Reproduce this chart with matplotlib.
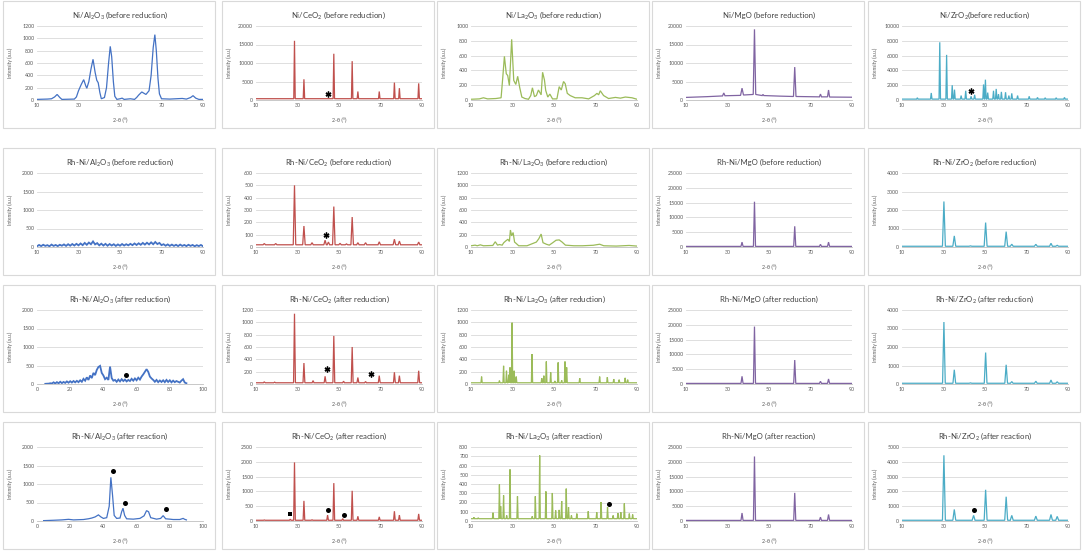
import matplotlib
matplotlib.use("Agg")
import matplotlib.pyplot as plt
from matplotlib.patches import Rectangle
import numpy as np

plt.rcParams['font.family'] = ['Lato', 'DejaVu Sans']
plt.rcParams['mathtext.fontset'] = 'custom'
plt.rcParams['mathtext.rm'] = 'Lato'
plt.rcParams['mathtext.it'] = 'Lato'

BLUE = '#4472C4'
RED = '#C0504D'
GREEN = '#9BBB59'
PURPLE = '#8064A2'
CYAN = '#4BACC6'

# ---------------- data (2-theta in degrees, intensity in a.u.) ----------------
# row 1: Ni catalysts before reduction
ni_al_before_x = [10, 15, 17, 18.5, 19.7, 21, 22, 28, 29, 30, 31.3, 32.5, 33.5, 34, 35, 36, 37, 38,
                  38.8, 39.5, 40.3, 41, 42.5, 43.5, 44.5, 45.3, 46, 46.8, 47.5, 48.5, 50, 51, 52, 55,
                  57, 58, 59, 60.5, 61.5, 62.5, 64, 65, 66, 66.8, 67.5, 68.3, 69, 70, 74, 77, 80, 82,
                  84, 85.2, 86.5, 88, 90]
ni_al_before_y = [10, 15, 20, 50, 90, 40, 10, 15, 50, 150, 250, 330, 230, 190, 300, 500, 660, 450,
                  320, 280, 120, 20, 40, 200, 600, 870, 700, 300, 60, 10, 20, 30, 10, 20,
                  10, 40, 80, 130, 110, 90, 150, 400, 850, 1060, 800, 350, 100, 20, 15, 20, 25, 15,
                  40, 70, 30, 10, 10]

ni_ce_before_pos = [28.55, 33.1, 47.5, 56.35, 59.1, 69.4, 76.7, 79.1, 88.4]
ni_ce_before_h = [16000, 5600, 12500, 10500, 2300, 2300, 4700, 3200, 4500]
ni_ce_before_star = [(44.5, 1700)]

ni_la_before_x = [10, 14, 16, 18, 22, 24.5, 25.3, 26.1, 27.0, 27.7, 28.5, 29.6, 30.6, 31.6, 32.5,
                  33.5, 34.5, 36, 37.7, 38.8, 39.6, 40.6, 41.5, 42.5, 43.8, 44.5, 45.4, 46, 47, 48,
                  49.3, 51.4, 52.5, 53.5, 54.6, 55.4, 56.4, 57.8, 60.2, 63.5, 66.7, 69.5, 70.7, 71.5,
                  72.3, 73.9, 76.3, 79.6, 82, 84.4, 87.6, 90]
ni_la_before_y = [10, 15, 30, 15, 20, 30, 300, 590, 355, 330, 195, 820, 265, 210, 320,
                  165, 40, 20, 10, 60, 165, 45, 60, 135, 70, 375, 270, 130, 40, 80,
                  15, 15, 180, 135, 250, 220, 90, 60, 30, 30, 15, 60, 90, 70,
                  125, 60, 20, 35, 25, 40, 30, 10]

ni_mg_before_x = [10, 20, 27.6, 28.2, 28.8, 36.3, 37.0, 37.7, 42.4, 43.0, 43.6, 46.7, 47.1, 47.5,
                  55, 61.8, 62.4, 63.0, 74.3, 74.8, 75.3, 78.2, 78.7, 79.2, 90]
ni_mg_before_y = [700, 900, 1100, 1900, 1150, 1250, 3200, 1350, 1500, 19100, 1500, 1200, 1500, 1200,
                  1050, 950, 8900, 950, 850, 1600, 850, 850, 2700, 800, 750]

ni_zr_before_pos = [17.4, 24.1, 28.2, 31.5, 34.2, 35.3, 38.5, 40.7, 43.3, 45.0, 49.3, 50.2, 51.3,
                    54.1, 55.4, 56.5, 57.9, 59.9, 61.5, 62.9, 65.7, 71.3, 75.3, 79.0, 84.3, 88.3]
ni_zr_before_h = [300, 950, 7800, 6100, 2000, 1400, 600, 1250, 500, 700, 2100, 2750, 1000,
                  1250, 1500, 800, 1100, 1050, 600, 900, 600, 500, 350, 300, 300, 350]
ni_zr_before_star = [(43.4, 1150)]

# row 2: Rh-Ni catalysts before reduction
rhni_al_before_x = list(range(10, 91))
rhni_al_before_y = [20, 55, 25, 60, 30, 50, 20, 65, 30, 55, 25, 60, 35, 70, 30,
                    75, 35, 80, 40, 85, 45, 95, 50, 110,
                    60, 120, 75, 150, 70, 105, 45,
                    90, 40, 85, 35, 80, 40, 75, 30, 70, 35, 80, 40, 75, 45, 85,
                    50, 95, 55, 100, 60, 110, 65, 115, 70, 125, 75, 135, 80, 110, 50,
                    75, 35, 70, 30, 65, 30, 60, 25, 65, 30, 55, 25, 60, 30, 55, 20, 50, 25, 55, 20]

rhni_ce_before_pos = [14, 19.5, 28.55, 33.1, 37.0, 43.3, 44.9, 47.5, 50.5, 53.6, 56.35, 59.1, 62.8,
                      69.4, 76.7, 79.1, 88.4]
rhni_ce_before_h = [28, 28, 500, 170, 35, 55, 40, 328, 30, 25, 243, 35, 35, 42, 63, 48, 40]
rhni_ce_before_star = [(43.8, 100)]

rhni_la_before_x = [10, 12, 13, 14.5, 16, 20.5, 21.7, 22.8, 23.7, 25, 25.8, 26.8, 27.8, 28.5, 29.0,
                    29.6, 30.3, 31.0, 31.7, 33, 37, 40, 41.5, 42.7, 43.8, 44.7, 46.3, 47.7, 49.4, 51,
                    52.5, 53.9, 55.5, 59.6, 63.7, 68.9, 72, 74, 80, 86.2, 90]
rhni_la_before_y = [20, 30, 20, 35, 20, 25, 85, 30, 40, 30, 70, 100, 125, 90, 275,
                    180, 235, 80, 60, 20, 20, 60, 80, 135, 210, 70, 45, 30, 70, 110,
                    115, 80, 30, 20, 20, 28, 45, 20, 15, 25, 15]

mg_pos = [37.0, 43.0, 62.4, 74.8, 78.7]
rhni_mg_before_h = [1650, 15300, 7000, 900, 1650]

zr_t_pos = [30.2, 35.2, 43.0, 50.3, 60.2, 62.9, 74.5, 81.8, 84.8]
rhni_zr_before_h = [2460, 600, 60, 1320, 830, 150, 145, 200, 90]

# row 3: Rh-Ni catalysts after reduction
rhni_al_red_x = list(range(5, 91))
rhni_al_red_y = [5, 8, 10, 20, 15,
                 45, 15, 50, 20, 60, 25, 55, 30, 70, 35, 75, 40, 80, 45, 85,
                 50, 100, 60, 140, 90,
                 180, 110, 230, 160,
                 300, 240, 380, 460, 490, 300,
                 230, 130, 170, 110,
                 470, 160, 90,
                 110, 60, 120, 70, 130, 80, 120, 70, 110,
                 80, 140, 90, 150, 100, 170, 120, 200,
                 260, 330, 400, 330, 200, 150, 110,
                 60, 110, 50, 95, 55, 100, 50, 110, 55, 100, 45, 90, 50, 80, 60,
                 40, 90, 130, 40, 20]
rhni_al_red_dot = [(53.5, 250)]

rhni_ce_red_pos = [14, 19, 28.55, 33.1, 37.5, 43.3, 47.5, 52.2, 56.35, 59.1, 62.8, 69.4, 76.7, 79.1, 88.4]
rhni_ce_red_h = [35, 30, 1140, 340, 55, 125, 780, 45, 600, 105, 40, 135, 190, 135, 215]
rhni_ce_red_star = [(44.2, 240), (65.5, 170)]

rhni_la_red_pos = [15.1, 23.7, 25.7, 27.1, 28.2, 28.8, 29.8, 30.8, 31.8, 39.4, 44.1, 45.1, 46.3,
                   48.4, 50.4, 52.0, 53.7, 55.3, 56.1, 62.4, 72.0, 75.7, 78.8, 81.4, 84.3, 85.5]
rhni_la_red_h = [120, 55, 295, 215, 150, 270, 995, 215, 120, 485, 95, 135, 365,
                 190, 50, 350, 60, 365, 270, 95, 120, 110, 80, 70, 100, 70]

rhni_mg_red_h = [2600, 19400, 8100, 900, 1700]
rhni_zr_red_h = [3350, 770, 60, 1700, 1040, 130, 150, 215, 120]

# row 4: Rh-Ni catalysts after reaction
rhni_al_rxn_x = [4, 10, 15, 19, 22, 28, 31, 33, 35, 37, 38.5, 40, 42, 43.5, 44.5, 45.5, 46.5, 48, 50,
                 51, 51.8, 52.8, 54, 58, 62, 64.5, 66, 67.2, 68.5, 72, 74.5, 76, 77.5, 80, 82, 86,
                 88, 89, 90]
rhni_al_rxn_y = [10, 20, 30, 45, 30, 40, 60, 80, 110, 165, 110, 70, 90, 400, 1180, 700, 150, 70, 80,
                 250, 345, 150, 60, 50, 70, 140, 280, 250, 90, 50, 70, 145, 60, 50, 40, 40,
                 70, 45, 30]
rhni_al_rxn_dot = [(45.5, 1340), (53.1, 480), (77.9, 317)]

rhni_ce_rxn_pos = [14, 26.5, 28.55, 33.1, 37.0, 44.5, 47.5, 51.8, 56.35, 59.1, 69.4, 76.7, 79.1, 88.4]
rhni_ce_rxn_h = [35, 60, 1980, 680, 40, 200, 1280, 80, 1020, 160, 140, 330, 200, 240]
rhni_ce_rxn_square = [(26.4, 230)]
rhni_ce_rxn_dot = [(44.9, 380), (52.6, 195)]

rhni_la_rxn_pos = [11.4, 13.5, 20.6, 23.7, 24.3, 25.7, 27.2, 28.8, 32.4, 39.5, 41.0, 43.1, 46.1,
                   49.2, 50.8, 52.5, 53.7, 55.9, 57.0, 58.4, 61.0, 66.5, 70.6, 72.7, 75.8, 78.5,
                   80.8, 82.2, 83.9, 86.3, 87.9]
rhni_la_rxn_h = [40, 35, 90, 395, 160, 277, 60, 558, 267, 50, 267, 710, 320,
                 303, 115, 120, 216, 350, 150, 60, 80, 105, 95, 205, 150, 60,
                 85, 95, 190, 80, 70]
rhni_la_rxn_dot = [(76.3, 180)]

rhni_mg_rxn_h = [2700, 21800, 9500, 1300, 2200]

zr_rxn_pos = [30.2, 35.2, 44.5, 50.3, 60.2, 62.9, 74.5, 81.8, 84.8]
rhni_zr_rxn_h = [4440, 780, 380, 2110, 1640, 380, 330, 440, 310]
rhni_zr_rxn_dot = [(44.6, 710)]


def peak_line(pos, h, base, hw, lo=10, hi=90):
    # polyline through the baseline and the top of each read-off peak
    xs, ys = [lo], [base]
    for p, v in zip(pos, h):
        xs += [p - hw, p, p + hw]
        ys += [base, v, base]
    xs.append(hi)
    ys.append(base)
    return xs, ys


def t(name, cond):
    return name + ' (' + cond + ')'


AL = 'Al$_2$O$_3$'
CE = 'CeO$_2$'
LA = 'La$_2$O$_3$'
ZR = 'ZrO$_2$'

# (title, xy, color, ymax, ystep, xrange, markers, linewidth)
panels = [
    # row 1
    (t('Ni/' + AL, 'before reduction'), (ni_al_before_x, ni_al_before_y), BLUE, 1200, 200, (10, 90), {}, 0.9),
    (t('Ni/' + CE, 'before reduction'), peak_line(ni_ce_before_pos, ni_ce_before_h, 350, 0.35), RED,
     20000, 5000, (10, 90), {'star': ni_ce_before_star}, 0.9),
    (t('Ni/' + LA, 'before reduction'), (ni_la_before_x, ni_la_before_y), GREEN, 1000, 200, (10, 90), {}, 0.9),
    (t('Ni/MgO', 'before reduction'), (ni_mg_before_x, ni_mg_before_y), PURPLE, 20000, 5000, (10, 90), {}, 0.9),
    ('Ni/' + ZR + '(before reduction)', peak_line(ni_zr_before_pos, ni_zr_before_h, 120, 0.35), CYAN,
     10000, 2000, (10, 90), {'star': ni_zr_before_star}, 0.9),
    # row 2
    (t('Rh-Ni/' + AL, 'before reduction'), (rhni_al_before_x, rhni_al_before_y), BLUE, 2000, 500, (10, 90), {}, 1.3),
    (t('Rh-Ni/' + CE, 'before reduction'), peak_line(rhni_ce_before_pos, rhni_ce_before_h, 18, 0.6), RED,
     600, 100, (10, 90), {'star': rhni_ce_before_star}, 0.9),
    ('Rh-Ni/' + LA + ' (before reduction)', (rhni_la_before_x, rhni_la_before_y), GREEN, 1200, 200, (10, 90), {}, 0.9),
    (t('Rh-Ni/MgO', 'before reduction'), peak_line(mg_pos, rhni_mg_before_h, 200, 0.5), PURPLE,
     25000, 5000, (10, 90), {}, 0.9),
    ('Rh-Ni/' + ZR + ' (before reduction)', peak_line(zr_t_pos, rhni_zr_before_h, 40, 0.7), CYAN,
     4000, 1000, (10, 90), {}, 0.9),
    # row 3
    (t('Rh-Ni/' + AL, 'after reduction'), (rhni_al_red_x, rhni_al_red_y), BLUE, 2000, 500, (0, 100),
     {'dot': rhni_al_red_dot}, 1.3),
    (t('Rh-Ni/' + CE, 'after reduction'), peak_line(rhni_ce_red_pos, rhni_ce_red_h, 20, 0.45), RED,
     1200, 200, (10, 90), {'star': rhni_ce_red_star}, 0.9),
    ('Rh-Ni/' + LA + ' (after reduction)', peak_line(rhni_la_red_pos, rhni_la_red_h, 20, 0.3), GREEN,
     1200, 200, (10, 90), {}, 0.9),
    (t('Rh-Ni/MgO', 'after reduction'), peak_line(mg_pos, rhni_mg_red_h, 200, 0.5), PURPLE,
     25000, 5000, (10, 90), {}, 0.9),
    (t('Rh-Ni/' + ZR, 'after reduction'), peak_line(zr_t_pos, rhni_zr_red_h, 40, 0.65), CYAN,
     4000, 1000, (10, 90), {}, 0.9),
    # row 4
    (t('Rh-Ni/' + AL, 'after reaction'), (rhni_al_rxn_x, rhni_al_rxn_y), BLUE, 2000, 500, (0, 100),
     {'dot': rhni_al_rxn_dot}, 0.9),
    (t('Rh-Ni/' + CE, 'after reaction'), peak_line(rhni_ce_rxn_pos, rhni_ce_rxn_h, 25, 0.4), RED,
     2500, 500, (10, 90), {'square': rhni_ce_rxn_square, 'dot': rhni_ce_rxn_dot}, 0.9),
    (t('Rh-Ni/' + LA, 'after reaction'), peak_line(rhni_la_rxn_pos, rhni_la_rxn_h, 25, 0.3), GREEN,
     800, 100, (10, 90), {'dot': rhni_la_rxn_dot}, 0.9),
    (t('Rh-Ni/MgO', 'after reaction'), peak_line(mg_pos, rhni_mg_rxn_h, 200, 0.5), PURPLE,
     25000, 5000, (10, 90), {}, 0.9),
    (t('Rh-Ni/' + ZR, 'after reaction'), peak_line(zr_rxn_pos, rhni_zr_rxn_h, 50, 0.7), CYAN,
     5000, 1000, (10, 90), {'dot': rhni_zr_rxn_dot}, 0.9),
]

# ---------------- layout (pixels) ----------------
W, H = 1084, 552
col_x = [3, 222, 437, 652, 868]
row_y = [1, 148, 285, 422]
PW, PH = 212, 127

fig = plt.figure(figsize=(W / 100, H / 100), dpi=100, facecolor='white')

marker_style = {
    'star': dict(marker=(6, 2, 0), ms=4.2, mew=1.0),
    'dot': dict(marker='o', ms=3.6, mew=0),
    'square': dict(marker='s', ms=3.4, mew=0),
}

for i, (title, (xs, ys), color, ymax, ystep, xr, marks, lw) in enumerate(panels):
    r, c = divmod(i, 5)
    x0, y0 = col_x[c], row_y[r]

    fig.patches.append(Rectangle((x0 / W, 1 - (y0 + PH) / H), PW / W, PH / H,
                                 transform=fig.transFigure, fill=False,
                                 ec='#D9D9D9', lw=0.8))

    ax = fig.add_axes([(x0 + 34) / W, 1 - (y0 + 99) / H, 166 / W, 74 / H])
    ax.plot(xs, ys, color=color, lw=lw, solid_joinstyle='miter')

    for kind, pts in marks.items():
        for (mx, my) in pts:
            ax.plot([mx], [my], color='black', ls='none', **marker_style[kind])

    ax.set_xlim(*xr)
    ax.set_ylim(0, ymax)
    if xr == (0, 100):
        ax.set_xticks(np.arange(0, 101, 20))
    else:
        ax.set_xticks(np.arange(10, 91, 20))
    ax.set_yticks(np.arange(0, ymax + 1, ystep))

    ax.yaxis.grid(True, color='#D9D9D9', lw=0.6)
    ax.set_axisbelow(True)
    for s in ['top', 'right', 'left']:
        ax.spines[s].set_visible(False)
    ax.spines['bottom'].set_color('#BFBFBF')
    ax.spines['bottom'].set_linewidth(0.6)
    ax.tick_params(length=0, labelsize=3.8, labelcolor='#595959', pad=2)

    ax.set_xlabel('2-θ (°)', fontsize=3.8, color='#595959')
    ax.xaxis.set_label_coords(0.5, -0.24)
    ax.set_ylabel('Intensity (a.u.)', fontsize=3.5, color='#595959')
    ax.yaxis.set_label_coords(-0.145, 0.5)

    ax.text(0.5, 1.14, title, transform=ax.transAxes, ha='center', va='center',
            fontsize=5.6, color='#404040')

fig.savefig('out.png', dpi=100, facecolor='white')
